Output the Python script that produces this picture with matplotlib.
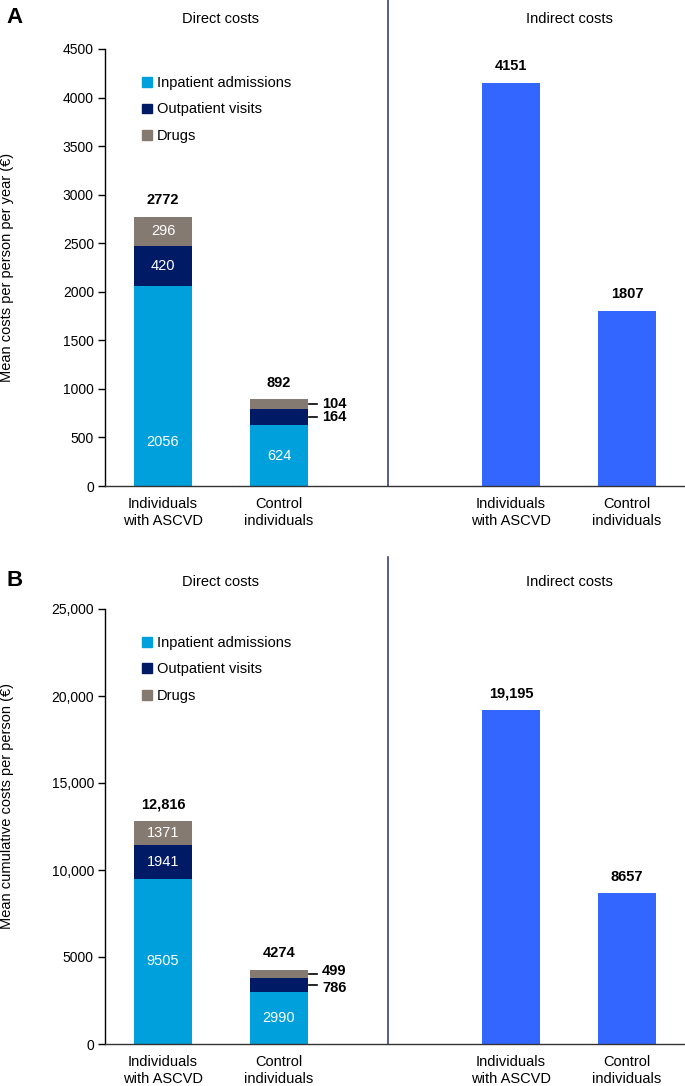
import matplotlib

matplotlib.use("Agg")
import matplotlib.pyplot as plt
from matplotlib.patches import Patch

plt.rcParams["font.family"] = ["Liberation Sans", "DejaVu Sans"]
plt.rcParams["font.size"] = 10

# --- dados ---
GROUPS = ["Individuals\nwith ASCVD", "Control\nindividuals"]
COMPONENTS = ["Inpatient admissions", "Outpatient visits", "Drugs"]

A_INPATIENT = [2056, 624]
A_OUTPATIENT = [420, 164]
A_DRUGS = [296, 104]
A_TOTAL = [2772, 892]
A_INDIRECT = [4151, 1807]
A_YTICKS = [0, 500, 1000, 1500, 2000, 2500, 3000, 3500, 4000, 4500]

B_INPATIENT = [9505, 2990]
B_OUTPATIENT = [1941, 786]
B_DRUGS = [1371, 499]
B_TOTAL = [12816, 4274]
B_INDIRECT = [19195, 8657]
B_YTICKS = [0, 5000, 10000, 15000, 20000, 25000]

# --- cores ---
C_INPAT = "#00a0dc"
C_OUTPAT = "#001a66"
C_DRUGS = "#857a72"
C_INDIRECT = "#3366ff"
C_DIVIDER = "#26326e"
INK = "#000000"

X_DIRECT = [0, 1]
X_INDIRECT = [3, 4]
WIDTH = 0.5
X_DIVIDER = 1.94


def fmt(v):
    return f"{v:,}" if v >= 10000 else str(v)


def panel(fig, rect, letter, ylabel, inpat, outpat, drugs, total, indirect,
          yticks, inner_frac, ylabel_y, divider_top, title_y, letter_y, side_px):
    ax = fig.add_axes(rect)
    ymax = yticks[-1]
    ax.set_ylim(0, ymax)
    ax.set_xlim(-0.5, 4.5)

    bottoms2 = [a + b for a, b in zip(inpat, outpat)]
    ax.bar(X_DIRECT, inpat, WIDTH, color=C_INPAT)
    ax.bar(X_DIRECT, outpat, WIDTH, bottom=inpat, color=C_OUTPAT)
    ax.bar(X_DIRECT, drugs, WIDTH, bottom=bottoms2, color=C_DRUGS)
    ax.bar(X_INDIRECT, indirect, WIDTH, color=C_INDIRECT)

    # ASCVD: rótulos brancos dentro dos segmentos
    x0 = X_DIRECT[0]
    ax.text(x0, inpat[0] * inner_frac, str(inpat[0]), color="white",
            ha="center", va="center", fontsize=10.5)
    ax.text(x0, inpat[0] + outpat[0] / 2, str(outpat[0]), color="white",
            ha="center", va="center", fontsize=10.5)
    ax.text(x0, bottoms2[0] + drugs[0] / 2, str(drugs[0]), color="white",
            ha="center", va="center", fontsize=10.5)

    # controles: inpatient dentro, os pequenos ao lado com tracinho
    x1 = X_DIRECT[1]
    ax.text(x1, inpat[1] / 2, str(inpat[1]), color="white",
            ha="center", va="center", fontsize=10.5)
    side = [(inpat[1] + outpat[1] / 2, outpat[1], -side_px),
            (bottoms2[1] + drugs[1] / 2, drugs[1], side_px)]
    for y, v, dy in side:
        ax.plot([x1 + WIDTH / 2 + 0.01, x1 + WIDTH / 2 + 0.08], [y, y],
                color=INK, lw=1.2, clip_on=False)
        ax.annotate(str(v), (x1 + WIDTH / 2 + 0.12, y), xytext=(0, dy * 0.72),
                    textcoords="offset points", color=INK, fontweight="bold",
                    ha="left", va="center", fontsize=10.5)

    for xs, vals in ((X_DIRECT, total), (X_INDIRECT, indirect)):
        for x, v in zip(xs, vals):
            ax.annotate(fmt(v), (x, v), xytext=(0, 7), textcoords="offset points",
                        ha="center", va="bottom", fontweight="bold", fontsize=10.5)

    # divisória entre custos diretos e indiretos
    ax.axvline(X_DIVIDER, ymin=0, ymax=divider_top, color=C_DIVIDER, lw=1.1,
               clip_on=False)

    ax.set_xticks(X_DIRECT + X_INDIRECT)
    ax.set_xticklabels(GROUPS + GROUPS, fontsize=10.5, linespacing=1.25)
    ax.tick_params(axis="x", length=0, pad=8)
    ax.set_yticks(yticks)
    ax.set_yticklabels([fmt(t) for t in yticks], fontsize=10)
    ax.tick_params(axis="y", length=5, width=1, pad=3)

    for s in ("top", "right"):
        ax.spines[s].set_visible(False)
    ax.spines["left"].set_color(INK)
    ax.spines["bottom"].set_color("#333333")
    ax.spines["left"].set_linewidth(1.0)
    ax.spines["bottom"].set_linewidth(1.0)

    ax.set_ylabel(ylabel, fontsize=10.5)
    ax.yaxis.set_label_coords(-0.157, ylabel_y)

    trans = ax.get_xaxis_transform()
    ax.text(0.5, title_y, "Direct costs", ha="center", va="center",
            fontsize=10.5, transform=trans)
    ax.text(3.5, title_y, "Indirect costs", ha="center", va="center",
            fontsize=10.5, transform=trans)
    ax.text(-1.28, letter_y, letter, ha="center", va="center",
            fontsize=16, fontweight="bold", transform=trans)

    handles = [Patch(color=c) for c in (C_INPAT, C_OUTPAT, C_DRUGS)]
    ax.legend(handles, COMPONENTS, loc="upper left", bbox_to_anchor=(0.064, 0.938),
              frameon=False, fontsize=10.5, handlelength=0.65, handleheight=0.65,
              handletextpad=0.35, labelspacing=0.85, borderpad=0, borderaxespad=0)
    return ax


fig = plt.figure(figsize=(6.85, 10.86), dpi=100)
fig.patch.set_facecolor("white")

panel(fig, [105 / 685, (1086 - 486) / 1086, 580 / 685, 437 / 1086], "A",
      "Mean costs per person per year (€)",
      A_INPATIENT, A_OUTPATIENT, A_DRUGS, A_TOTAL, A_INDIRECT, A_YTICKS,
      0.22, 0.50, 486 / 437, 1.068, 1.071, 0)
panel(fig, [105 / 685, (1086 - 1044) / 1086, 580 / 685, 435 / 1086], "B",
      "Mean cumulative costs per person (€)",
      B_INPATIENT, B_OUTPATIENT, B_DRUGS, B_TOTAL, B_INDIRECT, B_YTICKS,
      0.5, 0.547, (1044 - 557) / 435, 1.062, 1.066, 2.5)

fig.savefig("out.png", dpi=100, facecolor="white")
